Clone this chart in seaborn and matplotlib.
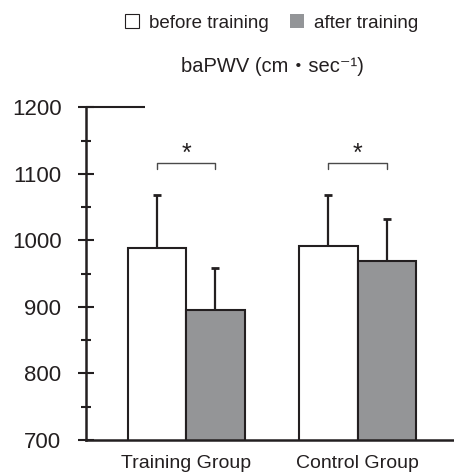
import matplotlib
matplotlib.use("Agg")
import matplotlib.pyplot as plt
from matplotlib.patches import Patch
import seaborn as sns
import pandas as pd

# ---- data ----
groups = ["Training Group", "Control Group"]
phases = ["before training", "after training"]
before_mean = [989, 991]
after_mean = [895, 969]
before_sd = [79, 77]
after_sd = [63, 63]
y_ticks = [700, 800, 900, 1000, 1100, 1200]
title_text = "baPWV (cm・sec⁻¹)"
sig_marks = ["*", "*"]

sns.set_theme(style="white")
plt.rcParams["font.family"] = ["Liberation Sans", "DejaVu Sans", "Noto Sans CJK JP"]

INK = "#231f20"
GRAY = "#939598"

df = pd.DataFrame({
    "group": groups * 2,
    "phase": [phases[0]] * 2 + [phases[1]] * 2,
    "value": before_mean + after_mean,
})

fig = plt.figure(figsize=(4.54, 4.72), dpi=100)
ax = fig.add_axes([0.1888, 0.0678, 0.8112, 0.7049])

sns.barplot(data=df, x="group", y="value", hue="phase", order=groups,
            hue_order=phases, palette=["white", GRAY], edgecolor=INK,
            linewidth=1.5, width=0.68, gap=0, errorbar=None, legend=False,
            ax=ax, zorder=2)

sds = [before_sd, after_sd]
centers = []
for cont, sd in zip(ax.containers, sds):
    xs, ys = [], []
    for bar in cont:
        xs.append(bar.get_x() + bar.get_width() / 2)
        ys.append(bar.get_height())
    centers.append(xs)
    ax.errorbar(xs, ys, yerr=[[0] * len(sd), sd], fmt="none", ecolor=INK,
                elinewidth=1.6, capsize=2.8, capthick=2.0, zorder=1)

# significance brackets
for i, mark in enumerate(sig_marks):
    x0, x1 = centers[0][i], centers[1][i]
    ax.plot([x0, x0, x1, x1], [1108, 1117, 1117, 1108], color="#4a4a4a",
            lw=1.0, clip_on=False)
    ax.text((x0 + x1) / 2, 1119, mark, ha="center", va="baseline",
            fontsize=18, color=INK)

ax.set_ylim(700, 1200)
ax.set_xlim(-0.587, 1.563)
ax.set_yticks(y_ticks)
ax.set_yticks(range(750, 1200, 100), minor=True)
ax.set_yticklabels([str(t) for t in y_ticks])
ax.tick_params(axis="y", which="major", direction="inout", length=11,
               width=1.5, color=INK, labelsize=16, labelcolor=INK, pad=12,
               left=True)
ax.tick_params(axis="y", which="minor", direction="inout", length=7.5,
               width=1.5, color=INK, left=True)
ax.tick_params(axis="x", length=0, labelsize=14, labelcolor=INK, pad=11)
ax.set_xlabel("")
ax.set_ylabel("")

sns.despine(ax=ax, top=True, right=True)
for s in ["left", "bottom"]:
    ax.spines[s].set_linewidth(1.8)
    ax.spines[s].set_color(INK)

# short top line at 1200
ax.plot([-0.587, -0.241], [1200, 1200], color=INK, lw=1.5, clip_on=False,
        solid_capstyle="butt")

# title
fig.text(272 / 454, 1 - 66 / 472, title_text, ha="center", va="center",
         fontsize=14.5, color=INK)

# legend
handles = [Patch(facecolor="white", edgecolor=INK, linewidth=0.8),
           Patch(facecolor=GRAY, edgecolor=GRAY, linewidth=0)]
fig.legend(handles=handles, labels=phases, loc="center",
           bbox_to_anchor=(271.5 / 454, 1 - 23 / 472), ncol=2, frameon=False,
           fontsize=13.5, handlelength=0.75, handleheight=0.75,
           handletextpad=0.55, columnspacing=1.1, labelcolor=INK,
           borderaxespad=0, borderpad=0)

fig.savefig("out.png", dpi=100)
